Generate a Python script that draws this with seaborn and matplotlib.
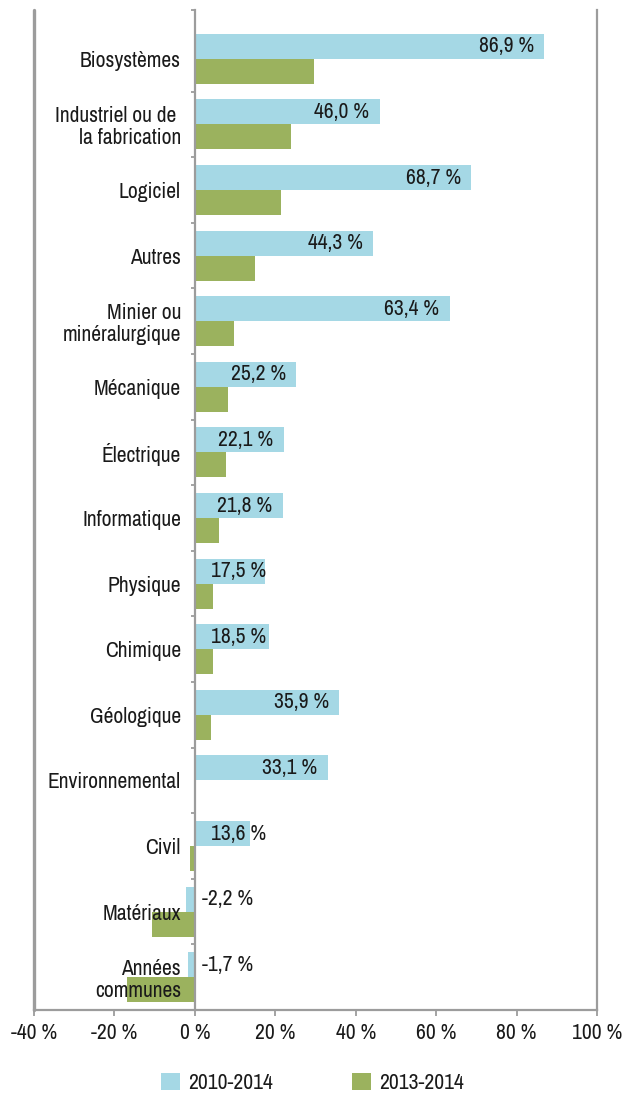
import matplotlib
matplotlib.use("Agg")
import matplotlib.pyplot as plt
import seaborn as sns
import pandas as pd
from matplotlib import font_manager as fm

categories = ["Biosystèmes", "Industriel ou de \nla fabrication", "Logiciel", "Autres",
              "Minier ou\nminéralurgique", "Mécanique", "Électrique", "Informatique",
              "Physique", "Chimique", "Géologique", "Environnemental", "Civil",
              "Matériaux", "Années\ncommunes"]
series_names = ["2010-2014", "2013-2014"]
values_2010_2014 = [86.9, 46.0, 68.7, 44.3, 63.4, 25.2, 22.1, 21.8, 17.5, 18.5, 35.9, 33.1, 13.6, -2.2, -1.7]
values_2013_2014 = [29.7, 23.9, 21.4, 14.9, 9.7, 8.2, 7.7, 6.0, 4.5, 4.5, 4.0, 0.0, -1.2, -10.6, -16.9]
x_ticks = [-40, -20, 0, 20, 40, 60, 80, 100]
x_tick_labels = ["-40 %", "-20 %", "0 %", "20 %", "40 %", "60 %", "80 %", "100 %"]

BLUE = "#a5d8e5"
GREEN = "#9bb25e"
AXIS_GRAY = "#9c9c9c"
TEXT = "#1a1a1a"
FS = 15.5

sns.set_theme(style="white")
narrow = [f.name for f in fm.fontManager.ttflist if "Narrow" in f.name]
fam = (narrow[:1] if narrow else []) + ["DejaVu Sans"]
plt.rcParams["font.family"] = fam
if not narrow:
    plt.rcParams["font.stretch"] = "condensed"
plt.rcParams["font.size"] = FS

df = pd.DataFrame({
    "cat": categories * 2,
    "val": values_2010_2014 + values_2013_2014,
    "period": [series_names[0]] * len(categories) + [series_names[1]] * len(categories),
})

fig = plt.figure(figsize=(6.25, 10.93), dpi=100)
ax = fig.add_axes([34 / 625, 1 - 1010 / 1093, (597 - 34) / 625, 1000 / 1093])

sns.barplot(data=df, y="cat", x="val", hue="period", hue_order=series_names,
            order=categories, palette=[BLUE, GREEN], saturation=1, width=0.762,
            orient="h", linewidth=0, ax=ax, errorbar=None)
ax.set_axisbelow(False)

ax.set_xlim(-40, 100)
ax.set_ylim(len(categories) - 0.5, -0.5 - 16 / 65.6)
ax.set_xlabel("")
ax.set_ylabel("")

ax.spines["top"].set_visible(False)
for s in ["left", "right", "bottom"]:
    ax.spines[s].set_color(AXIS_GRAY)
    ax.spines[s].set_linewidth(1.6)
ax.spines["left"].set_position(("data", 0))
ax.axvline(-40, color=AXIS_GRAY, lw=2.4, clip_on=False, zorder=3)

ax.set_xticks(x_ticks)
ax.set_xticklabels(x_tick_labels, fontsize=FS, color=TEXT)
ax.tick_params(axis="x", direction="out", length=4.3, width=1.3, color=AXIS_GRAY, pad=5, bottom=True)

ax.set_yticks(range(len(categories)))
ax.set_yticklabels(categories, fontsize=FS, color=TEXT)
ax.tick_params(axis="y", which="major", length=0, pad=10, left=True)
for lab in ax.get_yticklabels():
    lab.set_linespacing(1.1)
bounds = [b + 0.5 for b in range(len(categories) - 1)] + [-0.5 - 16 / 65.6]
ax.set_yticks(bounds, minor=True)
ax.tick_params(axis="y", which="minor", direction="out", length=3, width=1.3, color=AXIS_GRAY, left=True)

for i, v in enumerate(values_2010_2014):
    txt = f"{v:.1f}".replace(".", ",") + " %"
    y = i - 0.762 / 4
    if v >= 20:
        ax.annotate(txt, xy=(v, y), xytext=(-7.5, 0), textcoords="offset points",
                    ha="right", va="center", fontsize=FS, color=TEXT)
    elif v >= 0:
        ax.annotate(txt, xy=(0, y), xytext=(11.5, 0), textcoords="offset points",
                    ha="left", va="center", fontsize=FS, color=TEXT)
    else:
        ax.annotate(txt, xy=(0, y), xytext=(5, 0), textcoords="offset points",
                    ha="left", va="center", fontsize=FS, color=TEXT)

handles, labels = ax.get_legend_handles_labels()
if ax.get_legend() is not None:
    ax.get_legend().remove()
fig.legend(handles, labels, loc="center", bbox_to_anchor=(0.5, 1 - 1083 / 1093), ncol=2,
           frameon=False, fontsize=FS, handlelength=0.88, handleheight=0.88,
           handletextpad=0.38, columnspacing=3.7, labelcolor=TEXT)

fig.savefig("out.png", dpi=100)
